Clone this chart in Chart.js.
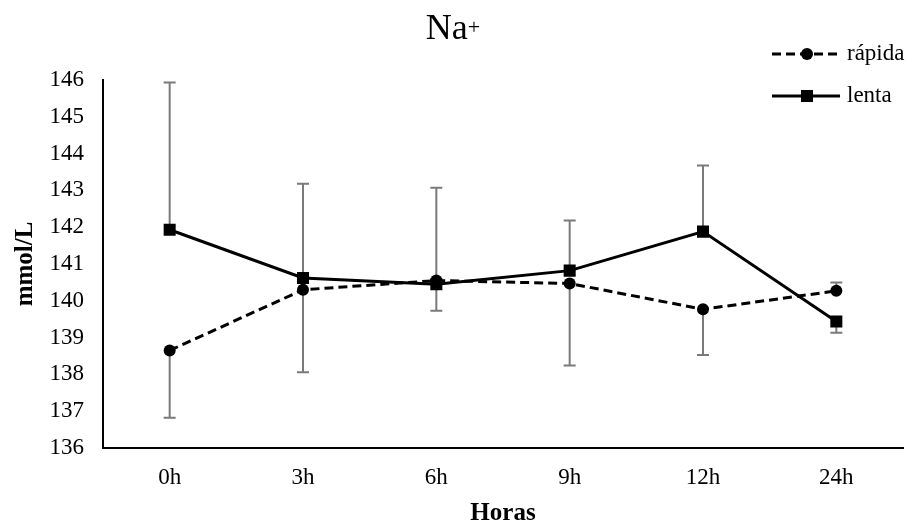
<!DOCTYPE html>
<html>
<head>
<meta charset="utf-8">
<script src="https://cdn.jsdelivr.net/npm/chart.js@4.4.1/dist/chart.umd.min.js"></script>
<style>
  html, body { margin: 0; padding: 0; background: #fff; }
  #wrap { width: 912px; height: 525px; }
</style>
</head>
<body>
<div id="wrap"><canvas id="c" width="912" height="525"></canvas></div>
<script>
// Sodium over time, two infusion rates (mean with one-sided SD bars)
const categories = ['0h', '3h', '6h', '9h', '12h', '24h'];
const rapida = [138.65, 140.30, 140.55, 140.47, 139.77, 140.27];
const lenta  = [141.93, 140.62, 140.45, 140.82, 141.88, 139.44];
const rapidaErrUp   = [0, 0, 0, 0, 0, 0.23];
const rapidaErrDown = [1.83, 2.24, 0.82, 2.23, 1.24, 0];
const lentaErrUp    = [4.00, 2.56, 2.62, 1.36, 1.80, 0];
const lentaErrDown  = [0, 0, 0, 0, 0, 0.31];
const yTicks = [136, 137, 138, 139, 140, 141, 142, 143, 144, 145, 146];

const SERIF = '"Liberation Serif", "Times New Roman", serif';

const errorBars = {
  id: 'errorBars',
  beforeDatasetsDraw(chart) {
    const ctx = chart.ctx;
    const y = chart.scales.y;
    ctx.save();
    ctx.strokeStyle = '#7a7a7a';
    ctx.lineWidth = 2;
    chart.data.datasets.forEach((ds, di) => {
      const meta = chart.getDatasetMeta(di);
      meta.data.forEach((pt, i) => {
        const v = ds.data[i];
        const x = pt.x;
        const ends = [];
        if (ds.errUp[i] > 0) ends.push(v + ds.errUp[i]);
        if (ds.errDown[i] > 0) ends.push(v - ds.errDown[i]);
        ends.forEach(end => {
          const yv = y.getPixelForValue(v);
          const ye = y.getPixelForValue(end);
          ctx.beginPath();
          ctx.moveTo(x, yv);
          ctx.lineTo(x, ye);
          ctx.moveTo(x - 6, ye);
          ctx.lineTo(x + 6, ye);
          ctx.stroke();
        });
      });
    });
    ctx.restore();
  }
};

const titleAndLegend = {
  id: 'titleAndLegend',
  afterDraw(chart) {
    const ctx = chart.ctx;
    ctx.save();
    // title: Na with superscript plus
    ctx.fillStyle = '#000';
    ctx.textBaseline = 'alphabetic';
    ctx.font = '36px ' + SERIF;
    const base = 'Na';
    const wBase = ctx.measureText(base).width;
    ctx.font = '22px ' + SERIF;
    const wSup = ctx.measureText('+').width;
    const startX = 453 - (wBase + wSup) / 2;
    ctx.font = '36px ' + SERIF;
    ctx.fillText(base, startX, 39);
    ctx.font = '22px ' + SERIF;
    ctx.fillText('+', startX + wBase, 34);

    // legend
    const items = chart.data.datasets.map((ds, i) => ({ ds, y: i === 0 ? 54 : 96 }));
    items.forEach(({ ds, y }) => {
      ctx.strokeStyle = '#000';
      ctx.lineWidth = 3;
      ctx.setLineDash(ds.borderDash || []);
      ctx.beginPath();
      ctx.moveTo(772, y);
      ctx.lineTo(840, y);
      ctx.stroke();
      ctx.setLineDash([]);
      ctx.fillStyle = '#000';
      if (ds.pointStyle === 'rect') {
        ctx.fillRect(801, y - 6, 12, 12);
      } else {
        ctx.beginPath();
        ctx.arc(807, y, 6, 0, Math.PI * 2);
        ctx.fill();
      }
      ctx.font = '23px ' + SERIF;
      ctx.textBaseline = 'middle';
      ctx.fillText(ds.label, 847, y);
    });
    ctx.restore();
  }
};

new Chart(document.getElementById('c'), {
  type: 'line',
  data: {
    labels: categories,
    datasets: [
      {
        label: 'rápida',
        data: rapida,
        errUp: rapidaErrUp,
        errDown: rapidaErrDown,
        borderColor: '#000',
        borderWidth: 3,
        borderDash: [9, 5],
        pointStyle: 'circle',
        pointRadius: 6,
        pointBackgroundColor: '#000',
        pointBorderColor: '#000',
        pointBorderWidth: 0,
        tension: 0
      },
      {
        label: 'lenta',
        data: lenta,
        errUp: lentaErrUp,
        errDown: lentaErrDown,
        borderColor: '#000',
        borderWidth: 3,
        pointStyle: 'rect',
        pointRadius: 8.5,
        pointBackgroundColor: '#000',
        pointBorderColor: '#000',
        pointBorderWidth: 0,
        tension: 0
      }
    ]
  },
  options: {
    responsive: false,
    animation: false,
    events: [],
    layout: { padding: { top: 80, right: 9, left: 0, bottom: 0 } },
    plugins: {
      legend: { display: false },
      title: { display: false },
      tooltip: { enabled: false }
    },
    scales: {
      x: {
        offset: true,
        grid: { display: false, drawTicks: false },
        border: { display: true, color: '#000', width: 2 },
        ticks: { color: '#000', font: { family: SERIF, size: 23 }, padding: 16 },
        title: {
          display: true, text: 'Horas', color: '#000',
          font: { family: SERIF, size: 25, weight: 'bold', lineHeight: 1 },
          padding: { top: 0, bottom: -1 }
        },
        afterFit(scale) { scale.height = 77; }
      },
      y: {
        min: 136, max: 146,
        grid: { display: false, drawTicks: false },
        border: { display: true, color: '#000', width: 2 },
        afterBuildTicks(scale) { scale.ticks = yTicks.map(v => ({ value: v })); },
        ticks: { color: '#000', font: { family: SERIF, size: 23 }, padding: 19 },
        title: {
          display: true, text: 'mmol/L', color: '#000',
          font: { family: SERIF, size: 25, weight: 'bold', lineHeight: 1 },
          padding: { top: 13, bottom: 0 }
        },
        afterFit(scale) { scale.width = 103; }
      }
    }
  },
  plugins: [errorBars, titleAndLegend]
});
</script>
</body>
</html>
